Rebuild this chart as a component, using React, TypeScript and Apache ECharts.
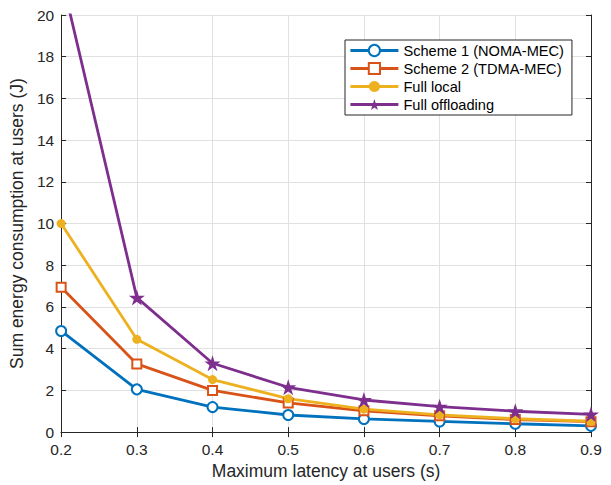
import React, { useEffect, useRef } from "react";
import * as echarts from "echarts";

const latencies = ["0.2", "0.3", "0.4", "0.5", "0.6", "0.7", "0.8", "0.9"];
const scheme1 = [4.85, 2.05, 1.2, 0.82, 0.63, 0.51, 0.4, 0.3];
const scheme2 = [6.95, 3.27, 2.0, 1.4, 1.02, 0.78, 0.6, 0.5];
const fullLocal = [10, 4.45, 2.52, 1.6, 1.1, 0.83, 0.64, 0.52];
const fullOffloading = [21.9, 6.45, 3.3, 2.15, 1.54, 1.22, 1.0, 0.85];
const seriesNames = ["Scheme 1 (NOMA-MEC)", "Scheme 2 (TDMA-MEC)", "Full local", "Full offloading"];

const STAR = "path://M50,0 L61.2,34.5 L97.6,34.5 L68.2,55.9 L79.4,90.5 L50,69.1 L20.6,90.5 L31.8,55.9 L2.4,34.5 L38.8,34.5 Z";
const FONT = "'Liberation Sans', Arial, Helvetica, sans-serif";
const AX = "#262626";
const GRID = "#e1e1e1";
const LW = 2.8;

export default function App() {
  const ref = useRef<HTMLDivElement>(null);
  useEffect(() => {
    if (!ref.current) return;
    const chart = echarts.init(ref.current, undefined, { renderer: "svg" });
    const tickLabel = { color: AX, fontSize: 15.5, fontFamily: FONT };
    chart.setOption({
      animation: false,
      backgroundColor: "#ffffff",
      textStyle: { fontFamily: FONT },
      grid: { left: 60, right: 20, top: 15, bottom: 51, containLabel: false },
      legend: {
        orient: "vertical",
        left: 345,
        top: 40,
        padding: [3, 8, 3, 4],
        itemWidth: 48,
        itemHeight: 14,
        itemGap: 3,
        borderColor: AX,
        borderWidth: 1,
        borderRadius: 0,
        backgroundColor: "#ffffff",
        lineStyle: { width: LW },
        textStyle: { color: "#000", fontSize: 14.6, fontFamily: FONT },
        data: seriesNames,
      },
      xAxis: [
        {
          type: "category",
          data: latencies,
          boundaryGap: false,
          name: "Maximum latency at users (s)",
          nameLocation: "middle",
          nameGap: 28,
          nameTextStyle: { color: AX, fontSize: 17.5, fontFamily: FONT },
          axisLine: { show: true, lineStyle: { color: AX, width: 1 } },
          axisTick: { show: true, inside: true, length: 5, lineStyle: { color: AX } },
          axisLabel: { ...tickLabel, margin: 9 },
          splitLine: { show: true, lineStyle: { color: GRID, width: 1 } },
        },
        {
          type: "category",
          data: latencies,
          boundaryGap: false,
          position: "top",
          axisLine: { show: true, lineStyle: { color: AX, width: 1 } },
          axisTick: { show: true, inside: true, length: 5, lineStyle: { color: AX } },
          axisLabel: { show: false },
          splitLine: { show: false },
        },
      ],
      yAxis: [
        {
          type: "value",
          min: 0,
          max: 20,
          interval: 2,
          name: "Sum energy consumption at users (J)",
          nameLocation: "middle",
          nameGap: 33,
          nameTextStyle: { color: AX, fontSize: 17.5, fontFamily: FONT },
          axisLine: { show: true, lineStyle: { color: AX, width: 1 } },
          axisTick: { show: true, inside: true, length: 5, lineStyle: { color: AX } },
          axisLabel: { ...tickLabel, margin: 7 },
          splitLine: { show: true, lineStyle: { color: GRID, width: 1 } },
        },
        {
          type: "value",
          min: 0,
          max: 20,
          interval: 2,
          position: "right",
          axisLine: { show: true, lineStyle: { color: AX, width: 1 } },
          axisTick: { show: true, inside: true, length: 5, lineStyle: { color: AX } },
          axisLabel: { show: false },
          splitLine: { show: false },
        },
      ],
      series: [
        {
          name: seriesNames[0],
          type: "line",
          data: scheme1,
          color: "#0072BD",
          lineStyle: { width: LW },
          symbol: "emptyCircle",
          symbolSize: 10,
          itemStyle: { borderWidth: 2.8, color: "#0072BD" },
        },
        {
          name: seriesNames[1],
          type: "line",
          data: scheme2,
          color: "#D95319",
          lineStyle: { width: LW },
          symbol: "emptyRect",
          symbolSize: 9,
          itemStyle: { borderWidth: 3, color: "#D95319" },
        },
        {
          name: seriesNames[2],
          type: "line",
          data: fullLocal,
          color: "#EDB120",
          lineStyle: { width: LW },
          symbol: "circle",
          symbolSize: 9,
          itemStyle: { color: "#EDB120" },
        },
        {
          name: seriesNames[3],
          type: "line",
          data: fullOffloading,
          color: "#7E2F8E",
          lineStyle: { width: LW },
          symbol: STAR,
          symbolSize: 16,
          itemStyle: { color: "#7E2F8E" },
        },
      ],
    });
    return () => chart.dispose();
  }, []);
  return <div ref={ref} style={{ width: 611, height: 485, position: "fixed", left: 0, top: 0 }} />;
}
